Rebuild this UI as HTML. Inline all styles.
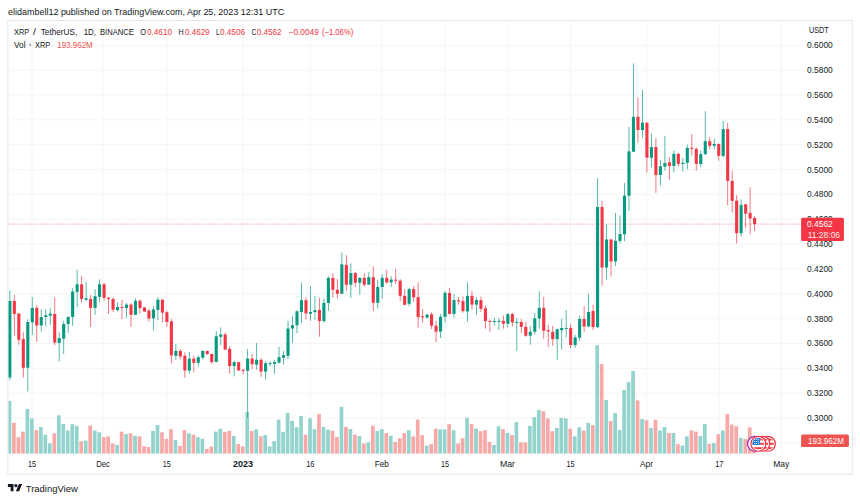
<!DOCTYPE html>
<html><head><meta charset="utf-8"><title>XRP / TetherUS</title>
<style>html,body{margin:0;padding:0;background:#fff;}body{width:860px;height:501px;overflow:hidden;}svg{display:block;}text{font-family:"Liberation Sans",sans-serif;}</style></head><body>
<svg width="860" height="501" viewBox="0 0 860 501">
<rect width="860" height="501" fill="#fff"/>
<text x="8" y="14.9" font-size="9.5" fill="#131722" textLength="276.2" lengthAdjust="spacingAndGlyphs">elidambell12 published on TradingView.com, Apr 25, 2023 12:31 UTC</text>
<rect x="7.9" y="20.5" width="844.4" height="453.7" fill="#fff" stroke="#e3e5eb" stroke-width="1"/>
<g stroke="#f5f5f6" stroke-width="1" fill="none">
<line x1="8.5" x2="801" y1="45.40" y2="45.40"/>
<line x1="8.5" x2="801" y1="70.24" y2="70.24"/>
<line x1="8.5" x2="801" y1="95.08" y2="95.08"/>
<line x1="8.5" x2="801" y1="119.92" y2="119.92"/>
<line x1="8.5" x2="801" y1="144.76" y2="144.76"/>
<line x1="8.5" x2="801" y1="169.60" y2="169.60"/>
<line x1="8.5" x2="801" y1="194.44" y2="194.44"/>
<line x1="8.5" x2="801" y1="219.28" y2="219.28"/>
<line x1="8.5" x2="801" y1="244.12" y2="244.12"/>
<line x1="8.5" x2="801" y1="268.96" y2="268.96"/>
<line x1="8.5" x2="801" y1="293.80" y2="293.80"/>
<line x1="8.5" x2="801" y1="318.64" y2="318.64"/>
<line x1="8.5" x2="801" y1="343.48" y2="343.48"/>
<line x1="8.5" x2="801" y1="368.32" y2="368.32"/>
<line x1="8.5" x2="801" y1="393.16" y2="393.16"/>
<line x1="8.5" x2="801" y1="418.00" y2="418.00"/>
<line x1="8.5" x2="801" y1="442.84" y2="442.84"/>
<line x1="32" x2="32" y1="21.0" y2="453.6"/>
<line x1="103" x2="103" y1="21.0" y2="453.6"/>
<line x1="166.75" x2="166.75" y1="21.0" y2="453.6"/>
<line x1="243" x2="243" y1="21.0" y2="453.6"/>
<line x1="310.25" x2="310.25" y1="21.0" y2="453.6"/>
<line x1="381.75" x2="381.75" y1="21.0" y2="453.6"/>
<line x1="445" x2="445" y1="21.0" y2="453.6"/>
<line x1="507.5" x2="507.5" y1="21.0" y2="453.6"/>
<line x1="570.5" x2="570.5" y1="21.0" y2="453.6"/>
<line x1="646.5" x2="646.5" y1="21.0" y2="453.6"/>
<line x1="719.25" x2="719.25" y1="21.0" y2="453.6"/>
<line x1="781.25" x2="781.25" y1="21.0" y2="453.6"/>
</g>
<g>
<rect x="8.50" y="400.9" width="2.80" height="52.7" fill="#93d3cd"/>
<rect x="12.09" y="422.8" width="3.70" height="30.8" fill="#f7a9a8"/>
<rect x="16.57" y="437.1" width="3.70" height="16.5" fill="#f7a9a8"/>
<rect x="21.06" y="431.6" width="3.70" height="22.0" fill="#f7a9a8"/>
<rect x="25.55" y="408.9" width="3.70" height="44.7" fill="#93d3cd"/>
<rect x="30.03" y="418.4" width="3.70" height="35.2" fill="#93d3cd"/>
<rect x="34.52" y="430.1" width="3.70" height="23.5" fill="#f7a9a8"/>
<rect x="39.01" y="427.0" width="3.70" height="26.6" fill="#93d3cd"/>
<rect x="43.49" y="434.7" width="3.70" height="18.9" fill="#93d3cd"/>
<rect x="47.98" y="443.5" width="3.70" height="10.1" fill="#93d3cd"/>
<rect x="52.47" y="433.3" width="3.70" height="20.3" fill="#f7a9a8"/>
<rect x="56.95" y="415.4" width="3.70" height="38.2" fill="#93d3cd"/>
<rect x="61.44" y="424.0" width="3.70" height="29.6" fill="#93d3cd"/>
<rect x="65.92" y="430.5" width="3.70" height="23.1" fill="#93d3cd"/>
<rect x="70.41" y="424.2" width="3.70" height="29.4" fill="#93d3cd"/>
<rect x="74.90" y="425.9" width="3.70" height="27.7" fill="#93d3cd"/>
<rect x="79.38" y="441.3" width="3.70" height="12.3" fill="#f7a9a8"/>
<rect x="83.87" y="440.6" width="3.70" height="13.0" fill="#93d3cd"/>
<rect x="88.36" y="425.6" width="3.70" height="28.0" fill="#f7a9a8"/>
<rect x="92.84" y="430.5" width="3.70" height="23.1" fill="#93d3cd"/>
<rect x="97.33" y="432.3" width="3.70" height="21.3" fill="#93d3cd"/>
<rect x="101.82" y="437.1" width="3.70" height="16.5" fill="#f7a9a8"/>
<rect x="106.30" y="436.4" width="3.70" height="17.2" fill="#f7a9a8"/>
<rect x="110.79" y="443.5" width="3.70" height="10.1" fill="#f7a9a8"/>
<rect x="115.28" y="444.9" width="3.70" height="8.7" fill="#93d3cd"/>
<rect x="119.76" y="431.6" width="3.70" height="22.0" fill="#f7a9a8"/>
<rect x="124.25" y="434.0" width="3.70" height="19.6" fill="#93d3cd"/>
<rect x="128.74" y="433.3" width="3.70" height="20.3" fill="#f7a9a8"/>
<rect x="133.22" y="435.8" width="3.70" height="17.8" fill="#93d3cd"/>
<rect x="137.71" y="436.4" width="3.70" height="17.2" fill="#f7a9a8"/>
<rect x="142.19" y="446.3" width="3.70" height="7.3" fill="#f7a9a8"/>
<rect x="146.68" y="447.0" width="3.70" height="6.6" fill="#f7a9a8"/>
<rect x="151.17" y="430.9" width="3.70" height="22.7" fill="#93d3cd"/>
<rect x="155.65" y="424.9" width="3.70" height="28.7" fill="#93d3cd"/>
<rect x="160.14" y="432.2" width="3.70" height="21.4" fill="#f7a9a8"/>
<rect x="164.63" y="438.9" width="3.70" height="14.7" fill="#f7a9a8"/>
<rect x="169.11" y="429.1" width="3.70" height="24.5" fill="#f7a9a8"/>
<rect x="173.60" y="440.0" width="3.70" height="13.6" fill="#93d3cd"/>
<rect x="178.09" y="445.9" width="3.70" height="7.7" fill="#f7a9a8"/>
<rect x="182.57" y="430.1" width="3.70" height="23.5" fill="#f7a9a8"/>
<rect x="187.06" y="433.3" width="3.70" height="20.3" fill="#93d3cd"/>
<rect x="191.55" y="434.7" width="3.70" height="18.9" fill="#f7a9a8"/>
<rect x="196.03" y="437.1" width="3.70" height="16.5" fill="#93d3cd"/>
<rect x="200.52" y="438.9" width="3.70" height="14.7" fill="#93d3cd"/>
<rect x="205.01" y="449.0" width="3.70" height="4.6" fill="#f7a9a8"/>
<rect x="209.49" y="446.6" width="3.70" height="7.0" fill="#f7a9a8"/>
<rect x="213.98" y="431.6" width="3.70" height="22.0" fill="#93d3cd"/>
<rect x="218.47" y="428.7" width="3.70" height="24.9" fill="#93d3cd"/>
<rect x="222.95" y="431.9" width="3.70" height="21.7" fill="#f7a9a8"/>
<rect x="227.44" y="430.9" width="3.70" height="22.7" fill="#f7a9a8"/>
<rect x="231.93" y="436.0" width="3.70" height="17.6" fill="#93d3cd"/>
<rect x="236.41" y="444.0" width="3.70" height="9.6" fill="#f7a9a8"/>
<rect x="240.90" y="446.5" width="3.70" height="7.1" fill="#f7a9a8"/>
<rect x="245.38" y="412.0" width="3.70" height="41.6" fill="#93d3cd"/>
<rect x="249.87" y="431.1" width="3.70" height="22.5" fill="#f7a9a8"/>
<rect x="254.36" y="429.2" width="3.70" height="24.4" fill="#93d3cd"/>
<rect x="258.84" y="436.3" width="3.70" height="17.3" fill="#f7a9a8"/>
<rect x="263.33" y="435.0" width="3.70" height="18.6" fill="#93d3cd"/>
<rect x="267.82" y="446.5" width="3.70" height="7.1" fill="#93d3cd"/>
<rect x="272.30" y="441.2" width="3.70" height="12.4" fill="#93d3cd"/>
<rect x="276.79" y="419.7" width="3.70" height="33.9" fill="#93d3cd"/>
<rect x="281.28" y="431.8" width="3.70" height="21.8" fill="#93d3cd"/>
<rect x="285.76" y="412.9" width="3.70" height="40.7" fill="#93d3cd"/>
<rect x="290.25" y="420.9" width="3.70" height="32.7" fill="#93d3cd"/>
<rect x="294.74" y="427.3" width="3.70" height="26.3" fill="#93d3cd"/>
<rect x="299.22" y="416.0" width="3.70" height="37.6" fill="#93d3cd"/>
<rect x="303.71" y="434.6" width="3.70" height="19.0" fill="#f7a9a8"/>
<rect x="308.20" y="418.3" width="3.70" height="35.3" fill="#93d3cd"/>
<rect x="312.68" y="429.2" width="3.70" height="24.4" fill="#93d3cd"/>
<rect x="317.17" y="414.1" width="3.70" height="39.5" fill="#f7a9a8"/>
<rect x="321.66" y="426.9" width="3.70" height="26.7" fill="#93d3cd"/>
<rect x="326.14" y="429.7" width="3.70" height="23.9" fill="#93d3cd"/>
<rect x="330.63" y="430.8" width="3.70" height="22.8" fill="#f7a9a8"/>
<rect x="335.11" y="437.0" width="3.70" height="16.6" fill="#f7a9a8"/>
<rect x="339.60" y="406.9" width="3.70" height="46.7" fill="#93d3cd"/>
<rect x="344.09" y="427.0" width="3.70" height="26.6" fill="#f7a9a8"/>
<rect x="348.57" y="429.1" width="3.70" height="24.5" fill="#93d3cd"/>
<rect x="353.06" y="434.7" width="3.70" height="18.9" fill="#f7a9a8"/>
<rect x="357.55" y="436.1" width="3.70" height="17.5" fill="#93d3cd"/>
<rect x="362.03" y="443.5" width="3.70" height="10.1" fill="#f7a9a8"/>
<rect x="366.52" y="442.4" width="3.70" height="11.2" fill="#93d3cd"/>
<rect x="371.01" y="425.9" width="3.70" height="27.7" fill="#f7a9a8"/>
<rect x="375.49" y="430.9" width="3.70" height="22.7" fill="#93d3cd"/>
<rect x="379.98" y="429.1" width="3.70" height="24.5" fill="#93d3cd"/>
<rect x="384.47" y="433.0" width="3.70" height="20.6" fill="#f7a9a8"/>
<rect x="388.95" y="435.8" width="3.70" height="17.8" fill="#93d3cd"/>
<rect x="393.44" y="442.0" width="3.70" height="11.6" fill="#f7a9a8"/>
<rect x="397.93" y="438.2" width="3.70" height="15.4" fill="#f7a9a8"/>
<rect x="402.41" y="433.0" width="3.70" height="20.6" fill="#f7a9a8"/>
<rect x="406.90" y="430.2" width="3.70" height="23.4" fill="#93d3cd"/>
<rect x="411.39" y="436.4" width="3.70" height="17.2" fill="#f7a9a8"/>
<rect x="415.87" y="419.6" width="3.70" height="34.0" fill="#f7a9a8"/>
<rect x="420.36" y="435.1" width="3.70" height="18.5" fill="#f7a9a8"/>
<rect x="424.84" y="445.5" width="3.70" height="8.1" fill="#93d3cd"/>
<rect x="429.33" y="444.2" width="3.70" height="9.4" fill="#f7a9a8"/>
<rect x="433.82" y="428.7" width="3.70" height="24.9" fill="#f7a9a8"/>
<rect x="438.30" y="429.4" width="3.70" height="24.2" fill="#93d3cd"/>
<rect x="442.79" y="429.4" width="3.70" height="24.2" fill="#93d3cd"/>
<rect x="447.28" y="424.2" width="3.70" height="29.4" fill="#f7a9a8"/>
<rect x="451.76" y="430.2" width="3.70" height="23.4" fill="#93d3cd"/>
<rect x="456.25" y="443.5" width="3.70" height="10.1" fill="#f7a9a8"/>
<rect x="460.74" y="438.2" width="3.70" height="15.4" fill="#f7a9a8"/>
<rect x="465.22" y="417.9" width="3.70" height="35.7" fill="#93d3cd"/>
<rect x="469.71" y="424.2" width="3.70" height="29.4" fill="#f7a9a8"/>
<rect x="474.20" y="428.7" width="3.70" height="24.9" fill="#93d3cd"/>
<rect x="478.68" y="431.2" width="3.70" height="22.4" fill="#f7a9a8"/>
<rect x="483.17" y="430.2" width="3.70" height="23.4" fill="#f7a9a8"/>
<rect x="487.66" y="442.0" width="3.70" height="11.6" fill="#f7a9a8"/>
<rect x="492.14" y="444.9" width="3.70" height="8.7" fill="#93d3cd"/>
<rect x="496.63" y="426.3" width="3.70" height="27.3" fill="#93d3cd"/>
<rect x="501.12" y="429.1" width="3.70" height="24.5" fill="#f7a9a8"/>
<rect x="505.60" y="432.9" width="3.70" height="20.7" fill="#93d3cd"/>
<rect x="510.09" y="435.1" width="3.70" height="18.5" fill="#f7a9a8"/>
<rect x="514.57" y="422.1" width="3.70" height="31.5" fill="#93d3cd"/>
<rect x="519.06" y="442.4" width="3.70" height="11.2" fill="#f7a9a8"/>
<rect x="523.55" y="442.4" width="3.70" height="11.2" fill="#f7a9a8"/>
<rect x="528.03" y="425.9" width="3.70" height="27.7" fill="#93d3cd"/>
<rect x="532.52" y="417.2" width="3.70" height="36.4" fill="#93d3cd"/>
<rect x="537.01" y="410.0" width="3.70" height="43.6" fill="#93d3cd"/>
<rect x="541.49" y="411.2" width="3.70" height="42.4" fill="#f7a9a8"/>
<rect x="545.98" y="418.4" width="3.70" height="35.2" fill="#f7a9a8"/>
<rect x="550.47" y="431.2" width="3.70" height="22.4" fill="#f7a9a8"/>
<rect x="554.95" y="428.0" width="3.70" height="25.6" fill="#93d3cd"/>
<rect x="559.44" y="417.9" width="3.70" height="35.7" fill="#93d3cd"/>
<rect x="563.93" y="418.4" width="3.70" height="35.2" fill="#93d3cd"/>
<rect x="568.41" y="428.7" width="3.70" height="24.9" fill="#f7a9a8"/>
<rect x="572.90" y="436.4" width="3.70" height="17.2" fill="#93d3cd"/>
<rect x="577.39" y="427.3" width="3.70" height="26.3" fill="#93d3cd"/>
<rect x="581.87" y="430.5" width="3.70" height="23.1" fill="#f7a9a8"/>
<rect x="586.36" y="422.8" width="3.70" height="30.8" fill="#93d3cd"/>
<rect x="590.85" y="425.2" width="3.70" height="28.4" fill="#f7a9a8"/>
<rect x="595.33" y="345.2" width="3.70" height="108.4" fill="#93d3cd"/>
<rect x="599.82" y="364.1" width="3.70" height="89.5" fill="#f7a9a8"/>
<rect x="604.30" y="400.0" width="3.70" height="53.6" fill="#93d3cd"/>
<rect x="608.79" y="421.0" width="3.70" height="32.6" fill="#f7a9a8"/>
<rect x="613.28" y="413.1" width="3.70" height="40.5" fill="#93d3cd"/>
<rect x="617.76" y="430.1" width="3.70" height="23.5" fill="#93d3cd"/>
<rect x="622.25" y="389.9" width="3.70" height="63.7" fill="#93d3cd"/>
<rect x="626.74" y="382.1" width="3.70" height="71.5" fill="#93d3cd"/>
<rect x="631.22" y="371.0" width="3.70" height="82.6" fill="#93d3cd"/>
<rect x="635.71" y="400.4" width="3.70" height="53.2" fill="#f7a9a8"/>
<rect x="640.20" y="419.1" width="3.70" height="34.5" fill="#93d3cd"/>
<rect x="644.68" y="420.3" width="3.70" height="33.3" fill="#f7a9a8"/>
<rect x="649.17" y="428.0" width="3.70" height="25.6" fill="#93d3cd"/>
<rect x="653.66" y="419.8" width="3.70" height="33.8" fill="#f7a9a8"/>
<rect x="658.14" y="430.5" width="3.70" height="23.1" fill="#93d3cd"/>
<rect x="662.63" y="427.0" width="3.70" height="26.6" fill="#93d3cd"/>
<rect x="667.12" y="433.0" width="3.70" height="20.6" fill="#f7a9a8"/>
<rect x="671.60" y="433.0" width="3.70" height="20.6" fill="#93d3cd"/>
<rect x="676.09" y="444.2" width="3.70" height="9.4" fill="#f7a9a8"/>
<rect x="680.58" y="445.5" width="3.70" height="8.1" fill="#93d3cd"/>
<rect x="685.06" y="436.4" width="3.70" height="17.2" fill="#93d3cd"/>
<rect x="689.55" y="430.5" width="3.70" height="23.1" fill="#f7a9a8"/>
<rect x="694.03" y="431.6" width="3.70" height="22.0" fill="#f7a9a8"/>
<rect x="698.52" y="436.1" width="3.70" height="17.5" fill="#93d3cd"/>
<rect x="703.01" y="424.0" width="3.70" height="29.6" fill="#93d3cd"/>
<rect x="707.49" y="443.8" width="3.70" height="9.8" fill="#f7a9a8"/>
<rect x="711.98" y="443.1" width="3.70" height="10.5" fill="#93d3cd"/>
<rect x="716.47" y="434.3" width="3.70" height="19.3" fill="#f7a9a8"/>
<rect x="720.95" y="430.5" width="3.70" height="23.1" fill="#93d3cd"/>
<rect x="725.44" y="414.0" width="3.70" height="39.6" fill="#f7a9a8"/>
<rect x="729.93" y="424.5" width="3.70" height="29.1" fill="#f7a9a8"/>
<rect x="734.41" y="426.3" width="3.70" height="27.3" fill="#f7a9a8"/>
<rect x="738.90" y="437.9" width="3.70" height="15.7" fill="#93d3cd"/>
<rect x="743.39" y="438.9" width="3.70" height="14.7" fill="#f7a9a8"/>
<rect x="747.87" y="427.4" width="3.70" height="26.2" fill="#f7a9a8"/>
<rect x="752.36" y="440.6" width="3.70" height="13.0" fill="#f7a9a8"/>
</g>
<line x1="8.5" x2="801" y1="224.1" y2="224.1" stroke="#F23645" stroke-width="1" stroke-dasharray="1 1.27" opacity="0.55"/>
<g>
<rect x="9.40" y="290.4" width="0.9" height="89.9" fill="#089981" opacity="0.75"/>
<rect x="8.50" y="301.0" width="2.90" height="76.5" fill="#089981"/>
<rect x="13.89" y="295.0" width="0.9" height="40.6" fill="#F23645" opacity="0.75"/>
<rect x="12.79" y="301.0" width="3.10" height="12.9" fill="#F23645"/>
<rect x="18.37" y="313.2" width="0.9" height="31.5" fill="#F23645" opacity="0.75"/>
<rect x="17.27" y="313.5" width="3.10" height="26.3" fill="#F23645"/>
<rect x="22.86" y="332.1" width="0.9" height="45.4" fill="#F23645" opacity="0.75"/>
<rect x="21.76" y="339.1" width="3.10" height="28.6" fill="#F23645"/>
<rect x="27.35" y="319.2" width="0.9" height="72.3" fill="#089981" opacity="0.75"/>
<rect x="26.25" y="322.0" width="3.10" height="45.7" fill="#089981"/>
<rect x="31.83" y="297.1" width="0.9" height="37.8" fill="#089981" opacity="0.75"/>
<rect x="30.73" y="307.9" width="3.10" height="14.4" fill="#089981"/>
<rect x="36.32" y="304.8" width="0.9" height="37.1" fill="#F23645" opacity="0.75"/>
<rect x="35.22" y="307.9" width="3.10" height="17.6" fill="#F23645"/>
<rect x="40.81" y="309.4" width="0.9" height="22.3" fill="#089981" opacity="0.75"/>
<rect x="39.71" y="317.0" width="3.10" height="8.4" fill="#089981"/>
<rect x="45.29" y="309.0" width="0.9" height="17.5" fill="#089981" opacity="0.75"/>
<rect x="44.19" y="315.3" width="3.10" height="1.7" fill="#089981"/>
<rect x="49.78" y="308.3" width="0.9" height="16.5" fill="#089981" opacity="0.75"/>
<rect x="48.68" y="313.5" width="3.10" height="2.2" fill="#089981"/>
<rect x="54.27" y="297.4" width="0.9" height="47.7" fill="#F23645" opacity="0.75"/>
<rect x="53.17" y="313.9" width="3.10" height="28.7" fill="#F23645"/>
<rect x="58.75" y="332.1" width="0.9" height="29.3" fill="#089981" opacity="0.75"/>
<rect x="57.65" y="338.1" width="3.10" height="4.8" fill="#089981"/>
<rect x="63.24" y="320.9" width="0.9" height="33.1" fill="#089981" opacity="0.75"/>
<rect x="62.14" y="324.0" width="3.10" height="14.7" fill="#089981"/>
<rect x="67.72" y="316.0" width="0.9" height="16.8" fill="#089981" opacity="0.75"/>
<rect x="66.62" y="317.0" width="3.10" height="7.0" fill="#089981"/>
<rect x="72.21" y="288.1" width="0.9" height="37.7" fill="#089981" opacity="0.75"/>
<rect x="71.11" y="291.5" width="3.10" height="25.5" fill="#089981"/>
<rect x="76.70" y="270.2" width="0.9" height="37.1" fill="#089981" opacity="0.75"/>
<rect x="75.60" y="284.3" width="3.10" height="7.5" fill="#089981"/>
<rect x="81.18" y="275.9" width="0.9" height="26.8" fill="#F23645" opacity="0.75"/>
<rect x="80.08" y="284.3" width="3.10" height="14.7" fill="#F23645"/>
<rect x="85.67" y="282.0" width="0.9" height="19.0" fill="#089981" opacity="0.75"/>
<rect x="84.57" y="298.3" width="3.10" height="1.6" fill="#089981"/>
<rect x="90.16" y="295.0" width="0.9" height="31.9" fill="#F23645" opacity="0.75"/>
<rect x="89.06" y="299.0" width="3.10" height="8.9" fill="#F23645"/>
<rect x="94.64" y="289.0" width="0.9" height="26.0" fill="#089981" opacity="0.75"/>
<rect x="93.54" y="296.2" width="3.10" height="11.7" fill="#089981"/>
<rect x="99.13" y="279.4" width="0.9" height="23.0" fill="#089981" opacity="0.75"/>
<rect x="98.03" y="284.3" width="3.10" height="12.6" fill="#089981"/>
<rect x="103.62" y="282.5" width="0.9" height="18.4" fill="#F23645" opacity="0.75"/>
<rect x="102.52" y="284.3" width="3.10" height="13.5" fill="#F23645"/>
<rect x="108.10" y="296.9" width="0.9" height="17.0" fill="#F23645" opacity="0.75"/>
<rect x="107.00" y="297.8" width="3.10" height="1.2" fill="#F23645"/>
<rect x="112.59" y="297.4" width="0.9" height="14.8" fill="#F23645" opacity="0.75"/>
<rect x="111.49" y="299.0" width="3.10" height="10.7" fill="#F23645"/>
<rect x="117.08" y="302.2" width="0.9" height="9.0" fill="#089981" opacity="0.75"/>
<rect x="115.98" y="307.0" width="3.10" height="3.1" fill="#089981"/>
<rect x="121.56" y="299.8" width="0.9" height="19.1" fill="#F23645" opacity="0.75"/>
<rect x="120.46" y="307.0" width="3.10" height="1.0" fill="#F23645"/>
<rect x="126.05" y="302.9" width="0.9" height="14.9" fill="#089981" opacity="0.75"/>
<rect x="124.95" y="304.6" width="3.10" height="3.5" fill="#089981"/>
<rect x="130.54" y="303.2" width="0.9" height="23.7" fill="#F23645" opacity="0.75"/>
<rect x="129.44" y="304.6" width="3.10" height="10.2" fill="#F23645"/>
<rect x="135.02" y="298.3" width="0.9" height="16.7" fill="#089981" opacity="0.75"/>
<rect x="133.92" y="300.8" width="3.10" height="14.0" fill="#089981"/>
<rect x="139.51" y="299.4" width="0.9" height="14.2" fill="#F23645" opacity="0.75"/>
<rect x="138.41" y="300.8" width="3.10" height="7.3" fill="#F23645"/>
<rect x="144.00" y="307.1" width="0.9" height="4.7" fill="#F23645" opacity="0.75"/>
<rect x="142.89" y="307.4" width="3.10" height="4.1" fill="#F23645"/>
<rect x="148.48" y="308.5" width="0.9" height="13.1" fill="#F23645" opacity="0.75"/>
<rect x="147.38" y="310.6" width="3.10" height="7.9" fill="#F23645"/>
<rect x="152.97" y="306.2" width="0.9" height="24.2" fill="#089981" opacity="0.75"/>
<rect x="151.87" y="309.5" width="3.10" height="8.8" fill="#089981"/>
<rect x="157.45" y="297.3" width="0.9" height="22.6" fill="#089981" opacity="0.75"/>
<rect x="156.35" y="299.7" width="3.10" height="10.2" fill="#089981"/>
<rect x="161.94" y="299.0" width="0.9" height="23.7" fill="#F23645" opacity="0.75"/>
<rect x="160.84" y="299.7" width="3.10" height="13.0" fill="#F23645"/>
<rect x="166.43" y="310.6" width="0.9" height="16.0" fill="#F23645" opacity="0.75"/>
<rect x="165.33" y="312.2" width="3.10" height="9.8" fill="#F23645"/>
<rect x="170.91" y="319.0" width="0.9" height="44.3" fill="#F23645" opacity="0.75"/>
<rect x="169.81" y="321.3" width="3.10" height="34.1" fill="#F23645"/>
<rect x="175.40" y="344.0" width="0.9" height="16.0" fill="#089981" opacity="0.75"/>
<rect x="174.30" y="351.0" width="3.10" height="4.8" fill="#089981"/>
<rect x="179.89" y="348.9" width="0.9" height="10.7" fill="#F23645" opacity="0.75"/>
<rect x="178.79" y="351.0" width="3.10" height="5.5" fill="#F23645"/>
<rect x="184.37" y="352.4" width="0.9" height="25.5" fill="#F23645" opacity="0.75"/>
<rect x="183.27" y="355.8" width="3.10" height="14.7" fill="#F23645"/>
<rect x="188.86" y="351.9" width="0.9" height="21.7" fill="#089981" opacity="0.75"/>
<rect x="187.76" y="358.6" width="3.10" height="11.9" fill="#089981"/>
<rect x="193.35" y="355.6" width="0.9" height="16.7" fill="#F23645" opacity="0.75"/>
<rect x="192.25" y="358.6" width="3.10" height="4.2" fill="#F23645"/>
<rect x="197.83" y="355.4" width="0.9" height="11.2" fill="#089981" opacity="0.75"/>
<rect x="196.73" y="357.2" width="3.10" height="5.6" fill="#089981"/>
<rect x="202.32" y="350.0" width="0.9" height="9.6" fill="#089981" opacity="0.75"/>
<rect x="201.22" y="351.0" width="3.10" height="6.7" fill="#089981"/>
<rect x="206.81" y="350.7" width="0.9" height="4.2" fill="#F23645" opacity="0.75"/>
<rect x="205.71" y="351.0" width="3.10" height="3.0" fill="#F23645"/>
<rect x="211.29" y="353.5" width="0.9" height="10.5" fill="#F23645" opacity="0.75"/>
<rect x="210.19" y="354.0" width="3.10" height="8.1" fill="#F23645"/>
<rect x="215.78" y="331.0" width="0.9" height="31.1" fill="#089981" opacity="0.75"/>
<rect x="214.68" y="336.3" width="3.10" height="25.6" fill="#089981"/>
<rect x="220.27" y="327.3" width="0.9" height="17.8" fill="#089981" opacity="0.75"/>
<rect x="219.17" y="334.6" width="3.10" height="2.2" fill="#089981"/>
<rect x="224.75" y="332.6" width="0.9" height="17.3" fill="#F23645" opacity="0.75"/>
<rect x="223.65" y="334.5" width="3.10" height="15.1" fill="#F23645"/>
<rect x="229.24" y="346.5" width="0.9" height="27.1" fill="#F23645" opacity="0.75"/>
<rect x="228.14" y="348.9" width="3.10" height="17.1" fill="#F23645"/>
<rect x="233.73" y="360.7" width="0.9" height="15.7" fill="#089981" opacity="0.75"/>
<rect x="232.62" y="362.1" width="3.10" height="3.9" fill="#089981"/>
<rect x="238.21" y="361.9" width="0.9" height="8.9" fill="#F23645" opacity="0.75"/>
<rect x="237.11" y="362.1" width="3.10" height="8.4" fill="#F23645"/>
<rect x="242.70" y="368.8" width="0.9" height="5.2" fill="#F23645" opacity="0.75"/>
<rect x="241.60" y="369.8" width="3.10" height="1.0" fill="#F23645"/>
<rect x="247.18" y="348.9" width="0.9" height="68.9" fill="#089981" opacity="0.75"/>
<rect x="246.08" y="358.6" width="3.10" height="12.2" fill="#089981"/>
<rect x="251.67" y="354.0" width="0.9" height="15.1" fill="#F23645" opacity="0.75"/>
<rect x="250.57" y="358.6" width="3.10" height="5.6" fill="#F23645"/>
<rect x="256.16" y="343.0" width="0.9" height="26.8" fill="#089981" opacity="0.75"/>
<rect x="255.06" y="359.8" width="3.10" height="4.9" fill="#089981"/>
<rect x="260.64" y="357.9" width="0.9" height="18.9" fill="#F23645" opacity="0.75"/>
<rect x="259.54" y="359.8" width="3.10" height="11.8" fill="#F23645"/>
<rect x="265.13" y="361.0" width="0.9" height="18.6" fill="#089981" opacity="0.75"/>
<rect x="264.03" y="363.3" width="3.10" height="8.3" fill="#089981"/>
<rect x="269.62" y="361.4" width="0.9" height="5.2" fill="#089981" opacity="0.75"/>
<rect x="268.52" y="363.1" width="3.10" height="1.0" fill="#089981"/>
<rect x="274.10" y="359.8" width="0.9" height="14.2" fill="#089981" opacity="0.75"/>
<rect x="273.00" y="362.1" width="3.10" height="1.7" fill="#089981"/>
<rect x="278.59" y="346.8" width="0.9" height="16.7" fill="#089981" opacity="0.75"/>
<rect x="277.49" y="357.2" width="3.10" height="5.4" fill="#089981"/>
<rect x="283.08" y="351.0" width="0.9" height="13.7" fill="#089981" opacity="0.75"/>
<rect x="281.98" y="355.2" width="3.10" height="2.5" fill="#089981"/>
<rect x="287.56" y="320.8" width="0.9" height="38.1" fill="#089981" opacity="0.75"/>
<rect x="286.46" y="328.5" width="3.10" height="27.3" fill="#089981"/>
<rect x="292.05" y="316.2" width="0.9" height="26.7" fill="#089981" opacity="0.75"/>
<rect x="290.95" y="325.3" width="3.10" height="3.2" fill="#089981"/>
<rect x="296.54" y="310.3" width="0.9" height="22.8" fill="#089981" opacity="0.75"/>
<rect x="295.44" y="311.3" width="3.10" height="14.0" fill="#089981"/>
<rect x="301.02" y="282.4" width="0.9" height="40.5" fill="#089981" opacity="0.75"/>
<rect x="299.92" y="300.2" width="3.10" height="11.8" fill="#089981"/>
<rect x="305.51" y="297.4" width="0.9" height="22.0" fill="#F23645" opacity="0.75"/>
<rect x="304.41" y="300.2" width="3.10" height="13.2" fill="#F23645"/>
<rect x="310.00" y="286.1" width="0.9" height="34.7" fill="#089981" opacity="0.75"/>
<rect x="308.90" y="312.0" width="3.10" height="1.8" fill="#089981"/>
<rect x="314.48" y="296.0" width="0.9" height="23.8" fill="#089981" opacity="0.75"/>
<rect x="313.38" y="310.3" width="3.10" height="1.8" fill="#089981"/>
<rect x="318.97" y="298.0" width="0.9" height="38.7" fill="#F23645" opacity="0.75"/>
<rect x="317.87" y="310.0" width="3.10" height="11.1" fill="#F23645"/>
<rect x="323.46" y="298.4" width="0.9" height="24.2" fill="#089981" opacity="0.75"/>
<rect x="322.36" y="302.9" width="3.10" height="18.2" fill="#089981"/>
<rect x="327.94" y="276.5" width="0.9" height="34.5" fill="#089981" opacity="0.75"/>
<rect x="326.84" y="277.9" width="3.10" height="25.0" fill="#089981"/>
<rect x="332.43" y="273.0" width="0.9" height="24.7" fill="#F23645" opacity="0.75"/>
<rect x="331.33" y="277.9" width="3.10" height="11.9" fill="#F23645"/>
<rect x="336.91" y="279.1" width="0.9" height="19.5" fill="#F23645" opacity="0.75"/>
<rect x="335.81" y="289.8" width="3.10" height="4.0" fill="#F23645"/>
<rect x="341.40" y="252.5" width="0.9" height="41.5" fill="#089981" opacity="0.75"/>
<rect x="340.30" y="264.4" width="3.10" height="29.3" fill="#089981"/>
<rect x="345.89" y="255.2" width="0.9" height="35.6" fill="#F23645" opacity="0.75"/>
<rect x="344.79" y="264.9" width="3.10" height="19.8" fill="#F23645"/>
<rect x="350.37" y="263.3" width="0.9" height="34.6" fill="#089981" opacity="0.75"/>
<rect x="349.27" y="273.1" width="3.10" height="11.6" fill="#089981"/>
<rect x="354.86" y="271.7" width="0.9" height="15.3" fill="#F23645" opacity="0.75"/>
<rect x="353.76" y="273.1" width="3.10" height="9.7" fill="#F23645"/>
<rect x="359.35" y="277.2" width="0.9" height="17.5" fill="#089981" opacity="0.75"/>
<rect x="358.25" y="277.9" width="3.10" height="4.9" fill="#089981"/>
<rect x="363.83" y="273.1" width="0.9" height="13.9" fill="#F23645" opacity="0.75"/>
<rect x="362.73" y="277.9" width="3.10" height="6.8" fill="#F23645"/>
<rect x="368.32" y="272.1" width="0.9" height="12.8" fill="#089981" opacity="0.75"/>
<rect x="367.22" y="277.2" width="3.10" height="7.5" fill="#089981"/>
<rect x="372.81" y="266.3" width="0.9" height="44.8" fill="#F23645" opacity="0.75"/>
<rect x="371.71" y="277.2" width="3.10" height="25.6" fill="#F23645"/>
<rect x="377.29" y="279.8" width="0.9" height="28.9" fill="#089981" opacity="0.75"/>
<rect x="376.19" y="287.0" width="3.10" height="15.8" fill="#089981"/>
<rect x="381.78" y="274.0" width="0.9" height="24.6" fill="#089981" opacity="0.75"/>
<rect x="380.68" y="277.9" width="3.10" height="9.1" fill="#089981"/>
<rect x="386.27" y="270.0" width="0.9" height="13.5" fill="#F23645" opacity="0.75"/>
<rect x="385.17" y="277.9" width="3.10" height="4.5" fill="#F23645"/>
<rect x="390.75" y="276.3" width="0.9" height="10.7" fill="#089981" opacity="0.75"/>
<rect x="389.65" y="279.6" width="3.10" height="2.8" fill="#089981"/>
<rect x="395.24" y="268.9" width="0.9" height="15.3" fill="#F23645" opacity="0.75"/>
<rect x="394.14" y="279.6" width="3.10" height="1.1" fill="#F23645"/>
<rect x="399.73" y="279.1" width="0.9" height="21.9" fill="#F23645" opacity="0.75"/>
<rect x="398.63" y="280.7" width="3.10" height="15.1" fill="#F23645"/>
<rect x="404.21" y="289.1" width="0.9" height="16.1" fill="#F23645" opacity="0.75"/>
<rect x="403.11" y="295.8" width="3.10" height="9.0" fill="#F23645"/>
<rect x="408.70" y="287.7" width="0.9" height="18.6" fill="#089981" opacity="0.75"/>
<rect x="407.60" y="289.1" width="3.10" height="14.7" fill="#089981"/>
<rect x="413.19" y="286.0" width="0.9" height="15.7" fill="#F23645" opacity="0.75"/>
<rect x="412.09" y="289.1" width="3.10" height="8.1" fill="#F23645"/>
<rect x="417.67" y="282.4" width="0.9" height="45.4" fill="#F23645" opacity="0.75"/>
<rect x="416.57" y="297.2" width="3.10" height="19.9" fill="#F23645"/>
<rect x="422.16" y="309.0" width="0.9" height="13.7" fill="#F23645" opacity="0.75"/>
<rect x="421.06" y="316.4" width="3.10" height="1.0" fill="#F23645"/>
<rect x="426.64" y="313.9" width="0.9" height="4.9" fill="#089981" opacity="0.75"/>
<rect x="425.54" y="314.6" width="3.10" height="3.0" fill="#089981"/>
<rect x="431.13" y="312.5" width="0.9" height="16.5" fill="#F23645" opacity="0.75"/>
<rect x="430.03" y="314.3" width="3.10" height="11.4" fill="#F23645"/>
<rect x="435.62" y="320.8" width="0.9" height="21.4" fill="#F23645" opacity="0.75"/>
<rect x="434.52" y="325.7" width="3.10" height="5.9" fill="#F23645"/>
<rect x="440.10" y="313.9" width="0.9" height="24.1" fill="#089981" opacity="0.75"/>
<rect x="439.00" y="316.7" width="3.10" height="14.9" fill="#089981"/>
<rect x="444.59" y="290.9" width="0.9" height="31.8" fill="#089981" opacity="0.75"/>
<rect x="443.49" y="292.9" width="3.10" height="24.0" fill="#089981"/>
<rect x="449.08" y="287.8" width="0.9" height="26.6" fill="#F23645" opacity="0.75"/>
<rect x="447.98" y="293.0" width="3.10" height="20.9" fill="#F23645"/>
<rect x="453.56" y="294.1" width="0.9" height="23.5" fill="#089981" opacity="0.75"/>
<rect x="452.46" y="300.0" width="3.10" height="13.9" fill="#089981"/>
<rect x="458.05" y="296.9" width="0.9" height="7.7" fill="#F23645" opacity="0.75"/>
<rect x="456.95" y="300.4" width="3.10" height="1.1" fill="#F23645"/>
<rect x="462.54" y="296.5" width="0.9" height="16.2" fill="#F23645" opacity="0.75"/>
<rect x="461.44" y="301.1" width="3.10" height="10.0" fill="#F23645"/>
<rect x="467.02" y="282.4" width="0.9" height="39.2" fill="#089981" opacity="0.75"/>
<rect x="465.92" y="295.9" width="3.10" height="15.6" fill="#089981"/>
<rect x="471.51" y="290.9" width="0.9" height="19.0" fill="#F23645" opacity="0.75"/>
<rect x="470.41" y="295.9" width="3.10" height="8.7" fill="#F23645"/>
<rect x="476.00" y="297.2" width="0.9" height="17.8" fill="#089981" opacity="0.75"/>
<rect x="474.90" y="300.1" width="3.10" height="4.5" fill="#089981"/>
<rect x="480.48" y="296.6" width="0.9" height="15.4" fill="#F23645" opacity="0.75"/>
<rect x="479.38" y="300.1" width="3.10" height="8.7" fill="#F23645"/>
<rect x="484.97" y="305.3" width="0.9" height="23.3" fill="#F23645" opacity="0.75"/>
<rect x="483.87" y="308.3" width="3.10" height="12.7" fill="#F23645"/>
<rect x="489.46" y="319.5" width="0.9" height="12.3" fill="#F23645" opacity="0.75"/>
<rect x="488.36" y="320.9" width="3.10" height="1.0" fill="#F23645"/>
<rect x="493.94" y="317.8" width="0.9" height="7.7" fill="#089981" opacity="0.75"/>
<rect x="492.84" y="321.0" width="3.10" height="1.0" fill="#089981"/>
<rect x="498.43" y="318.3" width="0.9" height="11.7" fill="#089981" opacity="0.75"/>
<rect x="497.33" y="320.9" width="3.10" height="1.0" fill="#089981"/>
<rect x="502.92" y="315.5" width="0.9" height="13.1" fill="#F23645" opacity="0.75"/>
<rect x="501.82" y="320.9" width="3.10" height="2.8" fill="#F23645"/>
<rect x="507.40" y="312.9" width="0.9" height="14.7" fill="#089981" opacity="0.75"/>
<rect x="506.30" y="314.1" width="3.10" height="9.6" fill="#089981"/>
<rect x="511.89" y="312.9" width="0.9" height="13.7" fill="#F23645" opacity="0.75"/>
<rect x="510.79" y="314.1" width="3.10" height="8.3" fill="#F23645"/>
<rect x="516.37" y="318.1" width="0.9" height="32.9" fill="#089981" opacity="0.75"/>
<rect x="515.27" y="321.9" width="3.10" height="1.0" fill="#089981"/>
<rect x="520.86" y="319.0" width="0.9" height="14.2" fill="#F23645" opacity="0.75"/>
<rect x="519.76" y="322.0" width="3.10" height="4.9" fill="#F23645"/>
<rect x="525.35" y="322.0" width="0.9" height="14.7" fill="#F23645" opacity="0.75"/>
<rect x="524.25" y="326.9" width="3.10" height="8.8" fill="#F23645"/>
<rect x="529.83" y="325.8" width="0.9" height="18.9" fill="#089981" opacity="0.75"/>
<rect x="528.73" y="331.8" width="3.10" height="3.9" fill="#089981"/>
<rect x="534.32" y="312.9" width="0.9" height="21.7" fill="#089981" opacity="0.75"/>
<rect x="533.22" y="318.3" width="3.10" height="13.5" fill="#089981"/>
<rect x="538.81" y="291.3" width="0.9" height="37.3" fill="#089981" opacity="0.75"/>
<rect x="537.71" y="307.8" width="3.10" height="10.7" fill="#089981"/>
<rect x="543.29" y="296.9" width="0.9" height="41.9" fill="#F23645" opacity="0.75"/>
<rect x="542.19" y="307.8" width="3.10" height="22.9" fill="#F23645"/>
<rect x="547.78" y="324.8" width="0.9" height="22.1" fill="#F23645" opacity="0.75"/>
<rect x="546.68" y="330.1" width="3.10" height="1.3" fill="#F23645"/>
<rect x="552.27" y="325.9" width="0.9" height="19.9" fill="#F23645" opacity="0.75"/>
<rect x="551.17" y="331.8" width="3.10" height="7.3" fill="#F23645"/>
<rect x="556.75" y="328.7" width="0.9" height="31.1" fill="#089981" opacity="0.75"/>
<rect x="555.65" y="329.2" width="3.10" height="9.9" fill="#089981"/>
<rect x="561.24" y="318.8" width="0.9" height="30.8" fill="#089981" opacity="0.75"/>
<rect x="560.14" y="328.0" width="3.10" height="2.2" fill="#089981"/>
<rect x="565.73" y="310.1" width="0.9" height="27.6" fill="#089981" opacity="0.75"/>
<rect x="564.63" y="327.9" width="3.10" height="1.0" fill="#089981"/>
<rect x="570.21" y="323.8" width="0.9" height="24.2" fill="#F23645" opacity="0.75"/>
<rect x="569.11" y="327.9" width="3.10" height="17.1" fill="#F23645"/>
<rect x="574.70" y="334.9" width="0.9" height="13.1" fill="#089981" opacity="0.75"/>
<rect x="573.60" y="337.4" width="3.10" height="7.6" fill="#089981"/>
<rect x="579.19" y="315.2" width="0.9" height="25.7" fill="#089981" opacity="0.75"/>
<rect x="578.09" y="319.0" width="3.10" height="18.7" fill="#089981"/>
<rect x="583.67" y="306.3" width="0.9" height="25.7" fill="#F23645" opacity="0.75"/>
<rect x="582.57" y="319.0" width="3.10" height="7.5" fill="#F23645"/>
<rect x="588.16" y="293.9" width="0.9" height="32.9" fill="#089981" opacity="0.75"/>
<rect x="587.06" y="312.0" width="3.10" height="14.5" fill="#089981"/>
<rect x="592.64" y="304.7" width="0.9" height="25.5" fill="#F23645" opacity="0.75"/>
<rect x="591.55" y="311.0" width="3.10" height="16.0" fill="#F23645"/>
<rect x="597.13" y="178.2" width="0.9" height="149.7" fill="#089981" opacity="0.75"/>
<rect x="596.03" y="207.0" width="3.10" height="120.2" fill="#089981"/>
<rect x="601.62" y="200.7" width="0.9" height="84.8" fill="#F23645" opacity="0.75"/>
<rect x="600.52" y="207.0" width="3.10" height="60.5" fill="#F23645"/>
<rect x="606.10" y="224.5" width="0.9" height="54.9" fill="#089981" opacity="0.75"/>
<rect x="605.00" y="239.5" width="3.10" height="28.0" fill="#089981"/>
<rect x="610.59" y="238.8" width="0.9" height="37.7" fill="#F23645" opacity="0.75"/>
<rect x="609.49" y="239.5" width="3.10" height="22.0" fill="#F23645"/>
<rect x="615.08" y="213.0" width="0.9" height="52.9" fill="#089981" opacity="0.75"/>
<rect x="613.98" y="240.9" width="3.10" height="20.6" fill="#089981"/>
<rect x="619.56" y="215.4" width="0.9" height="28.2" fill="#089981" opacity="0.75"/>
<rect x="618.46" y="234.0" width="3.10" height="6.9" fill="#089981"/>
<rect x="624.05" y="183.1" width="0.9" height="58.1" fill="#089981" opacity="0.75"/>
<rect x="622.95" y="195.7" width="3.10" height="38.5" fill="#089981"/>
<rect x="628.54" y="127.0" width="0.9" height="83.9" fill="#089981" opacity="0.75"/>
<rect x="627.44" y="151.4" width="3.10" height="44.3" fill="#089981"/>
<rect x="633.02" y="63.4" width="0.9" height="88.6" fill="#089981" opacity="0.75"/>
<rect x="631.92" y="116.8" width="3.10" height="34.9" fill="#089981"/>
<rect x="637.51" y="97.6" width="0.9" height="45.1" fill="#F23645" opacity="0.75"/>
<rect x="636.41" y="116.8" width="3.10" height="13.2" fill="#F23645"/>
<rect x="642.00" y="89.9" width="0.9" height="47.6" fill="#089981" opacity="0.75"/>
<rect x="640.90" y="122.7" width="3.10" height="7.3" fill="#089981"/>
<rect x="646.48" y="122.0" width="0.9" height="50.6" fill="#F23645" opacity="0.75"/>
<rect x="645.38" y="122.8" width="3.10" height="34.9" fill="#F23645"/>
<rect x="650.97" y="133.4" width="0.9" height="33.9" fill="#089981" opacity="0.75"/>
<rect x="649.87" y="147.1" width="3.10" height="10.6" fill="#089981"/>
<rect x="655.46" y="138.2" width="0.9" height="54.7" fill="#F23645" opacity="0.75"/>
<rect x="654.36" y="147.1" width="3.10" height="27.9" fill="#F23645"/>
<rect x="659.94" y="160.0" width="0.9" height="25.6" fill="#089981" opacity="0.75"/>
<rect x="658.84" y="166.2" width="3.10" height="8.8" fill="#089981"/>
<rect x="664.43" y="135.9" width="0.9" height="34.9" fill="#089981" opacity="0.75"/>
<rect x="663.33" y="163.0" width="3.10" height="3.7" fill="#089981"/>
<rect x="668.92" y="157.2" width="0.9" height="22.4" fill="#F23645" opacity="0.75"/>
<rect x="667.82" y="162.3" width="3.10" height="3.7" fill="#F23645"/>
<rect x="673.40" y="150.3" width="0.9" height="22.3" fill="#089981" opacity="0.75"/>
<rect x="672.30" y="153.9" width="3.10" height="12.1" fill="#089981"/>
<rect x="677.89" y="153.0" width="0.9" height="13.7" fill="#F23645" opacity="0.75"/>
<rect x="676.79" y="153.9" width="3.10" height="9.9" fill="#F23645"/>
<rect x="682.38" y="158.0" width="0.9" height="13.5" fill="#089981" opacity="0.75"/>
<rect x="681.28" y="162.8" width="3.10" height="1.2" fill="#089981"/>
<rect x="686.86" y="144.7" width="0.9" height="24.5" fill="#089981" opacity="0.75"/>
<rect x="685.76" y="147.9" width="3.10" height="14.9" fill="#089981"/>
<rect x="691.35" y="134.1" width="0.9" height="21.3" fill="#F23645" opacity="0.75"/>
<rect x="690.25" y="147.9" width="3.10" height="1.0" fill="#F23645"/>
<rect x="695.83" y="147.5" width="0.9" height="23.2" fill="#F23645" opacity="0.75"/>
<rect x="694.73" y="148.9" width="3.10" height="15.0" fill="#F23645"/>
<rect x="700.32" y="150.6" width="0.9" height="16.6" fill="#089981" opacity="0.75"/>
<rect x="699.22" y="154.1" width="3.10" height="9.9" fill="#089981"/>
<rect x="704.81" y="111.2" width="0.9" height="44.0" fill="#089981" opacity="0.75"/>
<rect x="703.71" y="141.2" width="3.10" height="12.9" fill="#089981"/>
<rect x="709.29" y="137.0" width="0.9" height="12.3" fill="#F23645" opacity="0.75"/>
<rect x="708.19" y="141.2" width="3.10" height="4.6" fill="#F23645"/>
<rect x="713.78" y="138.8" width="0.9" height="10.8" fill="#089981" opacity="0.75"/>
<rect x="712.68" y="144.0" width="3.10" height="1.8" fill="#089981"/>
<rect x="718.27" y="143.3" width="0.9" height="17.4" fill="#F23645" opacity="0.75"/>
<rect x="717.17" y="144.0" width="3.10" height="11.8" fill="#F23645"/>
<rect x="722.75" y="121.0" width="0.9" height="36.4" fill="#089981" opacity="0.75"/>
<rect x="721.65" y="129.1" width="3.10" height="26.8" fill="#089981"/>
<rect x="727.24" y="122.8" width="0.9" height="82.2" fill="#F23645" opacity="0.75"/>
<rect x="726.14" y="129.1" width="3.10" height="51.8" fill="#F23645"/>
<rect x="731.73" y="170.7" width="0.9" height="42.0" fill="#F23645" opacity="0.75"/>
<rect x="730.63" y="180.9" width="3.10" height="19.9" fill="#F23645"/>
<rect x="736.21" y="195.1" width="0.9" height="48.3" fill="#F23645" opacity="0.75"/>
<rect x="735.11" y="200.6" width="3.10" height="32.6" fill="#F23645"/>
<rect x="740.70" y="199.4" width="0.9" height="37.3" fill="#089981" opacity="0.75"/>
<rect x="739.60" y="204.9" width="3.10" height="28.3" fill="#089981"/>
<rect x="745.19" y="203.9" width="0.9" height="24.4" fill="#F23645" opacity="0.75"/>
<rect x="744.09" y="204.3" width="3.10" height="9.3" fill="#F23645"/>
<rect x="749.67" y="187.2" width="0.9" height="47.4" fill="#F23645" opacity="0.75"/>
<rect x="748.57" y="212.9" width="3.10" height="5.6" fill="#F23645"/>
<rect x="754.16" y="215.7" width="0.9" height="15.2" fill="#F23645" opacity="0.75"/>
<rect x="753.06" y="218.0" width="3.10" height="6.0" fill="#F23645"/>
</g>
<text x="14" y="35.2" font-size="8.9" fill="#131722" textLength="15.1" lengthAdjust="spacingAndGlyphs">XRP</text>
<text x="33.1" y="35.2" font-size="8.9" fill="#131722" textLength="2.9" lengthAdjust="spacingAndGlyphs">/</text>
<text x="40.7" y="35.2" font-size="8.9" fill="#131722" textLength="36.6" lengthAdjust="spacingAndGlyphs">TetherUS,</text>
<text x="83.7" y="35.2" font-size="8.9" fill="#131722" textLength="12.3" lengthAdjust="spacingAndGlyphs">1D,</text>
<text x="100" y="35.2" font-size="8.9" fill="#131722" textLength="33.7" lengthAdjust="spacingAndGlyphs">BINANCE</text>
<text x="140.2" y="35.2" font-size="8.9" fill="#131722" textLength="5.8" lengthAdjust="spacingAndGlyphs">O</text>
<text x="147" y="35.2" font-size="8.9" fill="#F23645" textLength="25" lengthAdjust="spacingAndGlyphs">0.4610</text>
<text x="178.6" y="35.2" font-size="8.9" fill="#131722" textLength="5.2" lengthAdjust="spacingAndGlyphs">H</text>
<text x="185" y="35.2" font-size="8.9" fill="#F23645" textLength="24.6" lengthAdjust="spacingAndGlyphs">0.4629</text>
<text x="216" y="35.2" font-size="8.9" fill="#131722" textLength="3.6" lengthAdjust="spacingAndGlyphs">L</text>
<text x="220" y="35.2" font-size="8.9" fill="#F23645" textLength="25" lengthAdjust="spacingAndGlyphs">0.4506</text>
<text x="251.6" y="35.2" font-size="8.9" fill="#131722" textLength="4.8" lengthAdjust="spacingAndGlyphs">C</text>
<text x="256.7" y="35.2" font-size="8.9" fill="#F23645" textLength="24.9" lengthAdjust="spacingAndGlyphs">0.4562</text>
<text x="288.6" y="35.2" font-size="8.9" fill="#F23645" textLength="30.2" lengthAdjust="spacingAndGlyphs">−0.0049</text>
<text x="321.9" y="35.2" font-size="8.9" fill="#F23645" textLength="31.4" lengthAdjust="spacingAndGlyphs">(−1.06%)</text>
<text x="14" y="47.9" font-size="8.9" fill="#131722" textLength="11.6" lengthAdjust="spacingAndGlyphs">Vol</text>
<circle cx="30.3" cy="44.9" r="0.65" fill="#131722"/>
<text x="35" y="47.9" font-size="8.9" fill="#131722" textLength="15.1" lengthAdjust="spacingAndGlyphs">XRP</text>
<text x="57.2" y="47.9" font-size="8.9" fill="#ef5350" textLength="35.6" lengthAdjust="spacingAndGlyphs">193.962M</text>
<text x="808.9" y="33.2" font-size="9.2" fill="#131722" textLength="19.9" lengthAdjust="spacingAndGlyphs">USDT</text>
<text x="807.1" y="48.4" font-size="9.3" fill="#131722" textLength="25.6" lengthAdjust="spacingAndGlyphs">0.6000</text>
<text x="807.1" y="73.2" font-size="9.3" fill="#131722" textLength="25.6" lengthAdjust="spacingAndGlyphs">0.5800</text>
<text x="807.1" y="98.0" font-size="9.3" fill="#131722" textLength="25.6" lengthAdjust="spacingAndGlyphs">0.5600</text>
<text x="807.1" y="122.9" font-size="9.3" fill="#131722" textLength="25.6" lengthAdjust="spacingAndGlyphs">0.5400</text>
<text x="807.1" y="147.7" font-size="9.3" fill="#131722" textLength="25.6" lengthAdjust="spacingAndGlyphs">0.5200</text>
<text x="807.1" y="172.5" font-size="9.3" fill="#131722" textLength="25.6" lengthAdjust="spacingAndGlyphs">0.5000</text>
<text x="807.1" y="197.4" font-size="9.3" fill="#131722" textLength="25.6" lengthAdjust="spacingAndGlyphs">0.4800</text>
<text x="807.1" y="222.2" font-size="9.3" fill="#131722" textLength="25.6" lengthAdjust="spacingAndGlyphs">0.4600</text>
<text x="807.1" y="247.1" font-size="9.3" fill="#131722" textLength="25.6" lengthAdjust="spacingAndGlyphs">0.4400</text>
<text x="807.1" y="271.9" font-size="9.3" fill="#131722" textLength="25.6" lengthAdjust="spacingAndGlyphs">0.4200</text>
<text x="807.1" y="296.8" font-size="9.3" fill="#131722" textLength="25.6" lengthAdjust="spacingAndGlyphs">0.4000</text>
<text x="807.1" y="321.6" font-size="9.3" fill="#131722" textLength="25.6" lengthAdjust="spacingAndGlyphs">0.3800</text>
<text x="807.1" y="346.4" font-size="9.3" fill="#131722" textLength="25.6" lengthAdjust="spacingAndGlyphs">0.3600</text>
<text x="807.1" y="371.3" font-size="9.3" fill="#131722" textLength="25.6" lengthAdjust="spacingAndGlyphs">0.3400</text>
<text x="807.1" y="396.1" font-size="9.3" fill="#131722" textLength="25.6" lengthAdjust="spacingAndGlyphs">0.3200</text>
<text x="807.1" y="420.9" font-size="9.3" fill="#131722" textLength="25.6" lengthAdjust="spacingAndGlyphs">0.3000</text>
<rect x="801.1" y="217.8" width="42.8" height="23.1" rx="1.5" fill="#F23645"/>
<text x="807.1" y="227.4" font-size="9.3" fill="#fff" textLength="25.6" lengthAdjust="spacingAndGlyphs">0.4562</text>
<text x="807.7" y="238.2" font-size="8.6" fill="#fff" textLength="32.4" lengthAdjust="spacingAndGlyphs" opacity="0.9">11:28:06</text>
<rect x="801.1" y="434.5" width="47.8" height="12.4" rx="1.5" fill="#ef5350"/>
<text x="807.9" y="444.0" font-size="8.8" fill="#fff" textLength="36" lengthAdjust="spacingAndGlyphs">193.962M</text>
<text x="32" y="467.3" font-size="8.9" fill="#131722" text-anchor="middle" textLength="8.1" lengthAdjust="spacingAndGlyphs">15</text>
<text x="103" y="467.3" font-size="8.9" fill="#131722" text-anchor="middle" textLength="13.75" lengthAdjust="spacingAndGlyphs">Dec</text>
<text x="166.75" y="467.3" font-size="8.9" fill="#131722" text-anchor="middle" textLength="8.1" lengthAdjust="spacingAndGlyphs">15</text>
<text x="243" y="467.3" font-size="8.9" fill="#131722" text-anchor="middle" font-weight="bold" textLength="20" lengthAdjust="spacingAndGlyphs">2023</text>
<text x="310.25" y="467.3" font-size="8.9" fill="#131722" text-anchor="middle" textLength="8.25" lengthAdjust="spacingAndGlyphs">16</text>
<text x="381.75" y="467.3" font-size="8.9" fill="#131722" text-anchor="middle" textLength="14.25" lengthAdjust="spacingAndGlyphs">Feb</text>
<text x="445" y="467.3" font-size="8.9" fill="#131722" text-anchor="middle" textLength="8.1" lengthAdjust="spacingAndGlyphs">15</text>
<text x="507.5" y="467.3" font-size="8.9" fill="#131722" text-anchor="middle" textLength="15" lengthAdjust="spacingAndGlyphs">Mar</text>
<text x="570.5" y="467.3" font-size="8.9" fill="#131722" text-anchor="middle" textLength="8.1" lengthAdjust="spacingAndGlyphs">15</text>
<text x="646.5" y="467.3" font-size="8.9" fill="#131722" text-anchor="middle" textLength="13" lengthAdjust="spacingAndGlyphs">Apr</text>
<text x="719.25" y="467.3" font-size="8.9" fill="#131722" text-anchor="middle" textLength="8.25" lengthAdjust="spacingAndGlyphs">17</text>
<text x="781.25" y="467.3" font-size="8.9" fill="#131722" text-anchor="middle" textLength="16" lengthAdjust="spacingAndGlyphs">May</text>
<defs><clipPath id="flagclip"><circle r="6.1"/></clipPath></defs>
<g transform="translate(767.9,443.8)">
<circle r="7.45" fill="#fff" stroke="#F23645" stroke-width="1.2"/>

<g clip-path="url(#flagclip)">
<rect x="-6" y="-6" width="12" height="12" fill="#fff"/>
<rect x="-6" y="-5.4" width="12" height="2.0" fill="#ef4444"/>
<rect x="-6" y="-1.0" width="12" height="2.0" fill="#ef4444"/>
<rect x="-6" y="3.4" width="12" height="2.0" fill="#ef4444"/>
<rect x="-6.2" y="-6.2" width="6.6" height="7.4" fill="#1e7fdc"/>
<circle cx="-3.6" cy="-4.3" r="0.55" fill="#fff"/>
<circle cx="-3.6" cy="-2.3" r="0.55" fill="#fff"/>
<circle cx="-3.6" cy="-0.3" r="0.55" fill="#fff"/>
<circle cx="-1.8" cy="-4.3" r="0.55" fill="#fff"/>
<circle cx="-1.8" cy="-2.3" r="0.55" fill="#fff"/>
<circle cx="-1.8" cy="-0.3" r="0.55" fill="#fff"/>
<circle cx="0.2" cy="-4.3" r="0.55" fill="#fff"/>
<circle cx="0.2" cy="-2.3" r="0.55" fill="#fff"/>
<circle cx="0.2" cy="-0.3" r="0.55" fill="#fff"/>
</g></g>
<g transform="translate(762.4,443.8)">
<circle r="7.45" fill="#fff" stroke="#F23645" stroke-width="1.2"/>

<g clip-path="url(#flagclip)">
<rect x="-6" y="-6" width="12" height="12" fill="#fff"/>
<rect x="-6" y="-5.4" width="12" height="2.0" fill="#ef4444"/>
<rect x="-6" y="-1.0" width="12" height="2.0" fill="#ef4444"/>
<rect x="-6" y="3.4" width="12" height="2.0" fill="#ef4444"/>
<rect x="-6.2" y="-6.2" width="6.6" height="7.4" fill="#1e7fdc"/>
<circle cx="-3.6" cy="-4.3" r="0.55" fill="#fff"/>
<circle cx="-3.6" cy="-2.3" r="0.55" fill="#fff"/>
<circle cx="-3.6" cy="-0.3" r="0.55" fill="#fff"/>
<circle cx="-1.8" cy="-4.3" r="0.55" fill="#fff"/>
<circle cx="-1.8" cy="-2.3" r="0.55" fill="#fff"/>
<circle cx="-1.8" cy="-0.3" r="0.55" fill="#fff"/>
<circle cx="0.2" cy="-4.3" r="0.55" fill="#fff"/>
<circle cx="0.2" cy="-2.3" r="0.55" fill="#fff"/>
<circle cx="0.2" cy="-0.3" r="0.55" fill="#fff"/>
</g></g>
<circle cx="755" cy="443.8" r="7.45" fill="#fff" stroke="#9c27b0" stroke-width="1.2"/>
<g transform="translate(758.4,443.8)">
<circle r="7.45" fill="#fff" stroke="#F23645" stroke-width="1.2"/>

<g clip-path="url(#flagclip)">
<rect x="-6" y="-6" width="12" height="12" fill="#fff"/>
<rect x="-6" y="-5.4" width="12" height="2.0" fill="#ef4444"/>
<rect x="-6" y="-1.0" width="12" height="2.0" fill="#ef4444"/>
<rect x="-6" y="3.4" width="12" height="2.0" fill="#ef4444"/>
<rect x="-6.2" y="-6.2" width="7.9" height="7.4" fill="#1e7fdc"/>
<circle cx="-3.6" cy="-4.3" r="0.55" fill="#fff"/>
<circle cx="-3.6" cy="-2.3" r="0.55" fill="#fff"/>
<circle cx="-3.6" cy="-0.3" r="0.55" fill="#fff"/>
<circle cx="-1.8" cy="-4.3" r="0.55" fill="#fff"/>
<circle cx="-1.8" cy="-2.3" r="0.55" fill="#fff"/>
<circle cx="-1.8" cy="-0.3" r="0.55" fill="#fff"/>
<circle cx="0.2" cy="-4.3" r="0.55" fill="#fff"/>
<circle cx="0.2" cy="-2.3" r="0.55" fill="#fff"/>
<circle cx="0.2" cy="-0.3" r="0.55" fill="#fff"/>
</g></g>
<g transform="translate(7.9,482.5) scale(0.4)" fill="#131722"><path d="M14 22H7V11H0V4h14v18zM28 22h-8l7.5-18h8L28 22z"/><circle cx="20" cy="8" r="4"/></g>
<text x="25.8" y="492" font-size="9.4" fill="#131722" textLength="51.9" lengthAdjust="spacingAndGlyphs">TradingView</text>
</svg></body></html>
